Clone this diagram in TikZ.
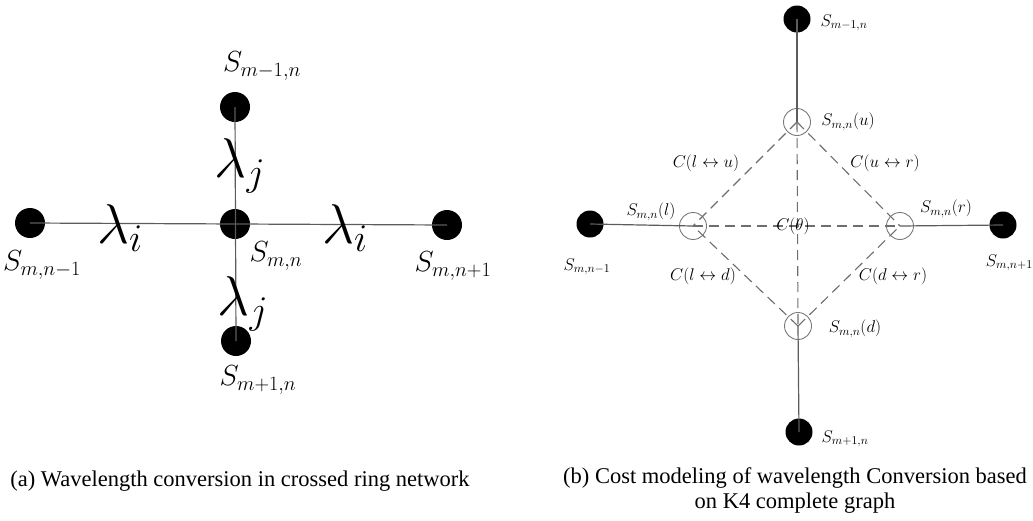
\RequirePackage{fix-cm}
\documentclass[tikz,border=0pt]{standalone}
\usepackage{fontspec}
\setmainfont{Liberation Serif}
\usetikzlibrary{positioning}
\definecolor{XLine}{HTML}{5C5C5C}
\definecolor{XDash}{HTML}{6E6E6E}
\definecolor{XRing}{HTML}{7A7A7A}
\tikzset{
  site/.style={circle,fill=black,inner sep=0pt,minimum size=30pt},
  sitesmall/.style={site,minimum size=27pt},
  port/.style={circle,draw=XRing,line width=0.9pt,inner sep=0pt,minimum size=27pt},
  link/.style={XLine,line width=1.2pt},
  cost/.style={XDash,line width=1.1pt,dash pattern=on 10pt off 6pt},
  lamlabel/.style={font=\fontsize{56}{60}\selectfont},
  namelabel/.style={font=\fontsize{29}{33}\selectfont},
  portlabel/.style={font=\fontsize{17}{20}\selectfont},
  costlabel/.style={font=\fontsize{17}{20}\selectfont},
  caption/.style={font=\fontsize{22.5}{25}\selectfont,align=center},
}
\begin{document}
\begin{tikzpicture}[x=1pt,y=-1pt]
    \useasboundingbox (0,0) rectangle (1033,520);

    % (a) crossed ring
    \node[site] (lc) at (235,224) {};
    \node[site] (lu) at (235,107) {};
    \node[site] (ld) at (236,341) {};
    \node[site] (lw) at (30,223) {};
    \node[site] (le) at (447,225) {};
    \draw[link] (lw.center) -- (le.center);
    \draw[link] (lu.center) -- (ld.center);

    \node[namelabel] (lulab) at (262,66) {$S_{m-1,n}$};
    \node[namelabel] (lwlab) at (42,265) {$S_{m,n-1}$};
    \node[namelabel] (lclab) at (276,256) {$S_{m,n}$};
    \node[namelabel] (lelab) at (453,266) {$S_{m,n+1}$};
    \node[namelabel] (ldlab) at (258,380) {$S_{m+1,n}$};
    \node[lamlabel] (liw) at (120,228) {$\lambda_i$};
    \node[lamlabel] (lie) at (345,228) {$\lambda_i$};
    \node[lamlabel] (lju) at (240,166) {$\lambda_j$};
    \node[lamlabel] (ljd) at (243,304) {$\lambda_j$};

    \node[caption] (capa) at (240,481) {(a) Wavelength conversion in crossed ring network};

    % (b) K4 cost model
    \node[sitesmall] (ru) at (797,19) {};
    \node[sitesmall] (rd) at (799,432) {};
    \node[sitesmall] (rw) at (590,224) {};
    \node[sitesmall] (re) at (1003,225) {};
    \node[port] (pu) at (797,122) {};
    \node[port] (pl) at (693,226) {};
    \node[port] (pr) at (900,226) {};
    \node[port] (pd) at (798,326) {};
    \draw[link] (ru.center) -- (pu.center);
    \draw[link] (pd.center) -- (rd.center);
    \draw[link] (rw.center) -- (pl.center);
    \draw[link] (pr.center) -- (re.center);
    \draw[cost] (pu.center) -- (pl.center);
    \draw[cost] (pu.center) -- (pr.center);
    \draw[cost] (pd.center) -- (pl.center);
    \draw[cost] (pd.center) -- (pr.center);
    \draw[cost] (pl.center) -- (pr.center);
    \draw[cost] (pu.center) -- (pd.center);

    \node[portlabel] (rulab) at (844,23) {$S_{m-1,n}$};
    \node[portlabel] (pulab) at (848,122) {$S_{m,n}(u)$};
    \node[portlabel] (pllab) at (651,212) {$S_{m,n}(l)$};
    \node[portlabel] (prlab) at (946,209) {$S_{m,n}(r)$};
    \node[portlabel] (pdlab) at (855,329) {$S_{m,n}(d)$};
    \node[portlabel] (rwlab) at (587,267) {$S_{m,n-1}$};
    \node[portlabel,anchor=east,inner xsep=0pt] (relab) at (1033,263) {$S_{m,n+1}$};
    \node[portlabel] (rdlab) at (845,439) {$S_{m+1,n}$};
    \node[costlabel] (clu) at (706,163) {$C(l\leftrightarrow u)$};
    \node[costlabel] (cur) at (885,163) {$C(u\leftrightarrow r)$};
    \node[costlabel] (cth) at (793,226) {$C(\theta)$};
    \node[costlabel] (cld) at (703,276) {$C(l\leftrightarrow d)$};
    \node[costlabel] (cdr) at (893,276) {$C(d\leftrightarrow r)$};

    \node[caption] (capb) at (795,490)
      {(b) Cost modeling of wavelength Conversion based\\on K4 complete graph};
\end{tikzpicture}
\end{document}
